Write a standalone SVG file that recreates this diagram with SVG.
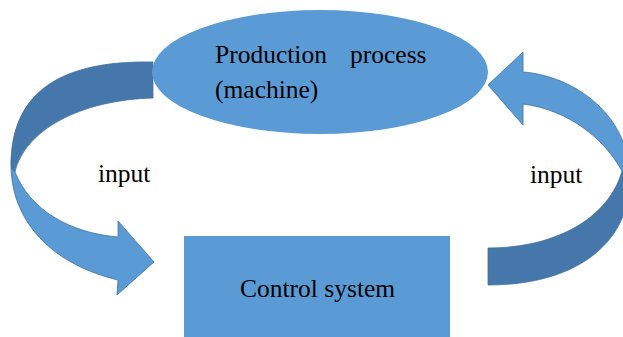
<svg xmlns="http://www.w3.org/2000/svg" width="623" height="337" viewBox="0 0 623 337">
  <style>
    .face { fill: #5B9BD5; }
    .back { fill: #4677AA; }
    .edge { stroke: #41719C; stroke-width: 0.8; }
    .label { font-family: "Liberation Serif", "Times New Roman", serif; font-size: 25.5px; fill: #000; }
  </style>
  <rect width="623" height="337" fill="#ffffff"/>

  <!-- curved arrows (inputs) -->
  <g id="connectors">
    <!-- left arrow: from process down into control system -->
    <g id="arrow-left">
      <path class="back edge" d="M153,62 C50,60 10,100 11,168 L15,172 C25,130 80,100 153,98 Z"/>
      <path class="face edge" d="M11,168 C13,225 55,265 118,280 L117,295 L154,262 L118,221 L118,237 C70,233 30,210 15,172 Z"/>
    </g>
    <!-- right arrow: from control system up into process (runs past the right edge) -->
    <g id="arrow-right">
      <path class="back edge" d="M630,175 C632,240 580,285 488,285 L488,248 C560,248 610,215 622,171 Z"/>
      <path class="face edge" d="M523,72 C575,76 628,115 630,175 L622,171 C605,140 570,110 523,104 L523,125 L488,85 L523,52 Z"/>
    </g>
  </g>

  <g id="node-process">
    <ellipse class="face" cx="320" cy="72" rx="168" ry="62"/>
    <text class="label" x="215" y="63">Production</text>
    <text class="label" x="350" y="63">process</text>
    <text class="label" x="215" y="98">(machine)</text>
  </g>

  <g id="node-control">
    <rect class="face" x="184" y="236" width="266" height="101"/>
    <text class="label" x="240" y="297">Control system</text>
  </g>

  <g id="labels">
    <text class="label" x="98" y="182">input</text>
    <text class="label" x="530" y="183">input</text>
  </g>
</svg>
